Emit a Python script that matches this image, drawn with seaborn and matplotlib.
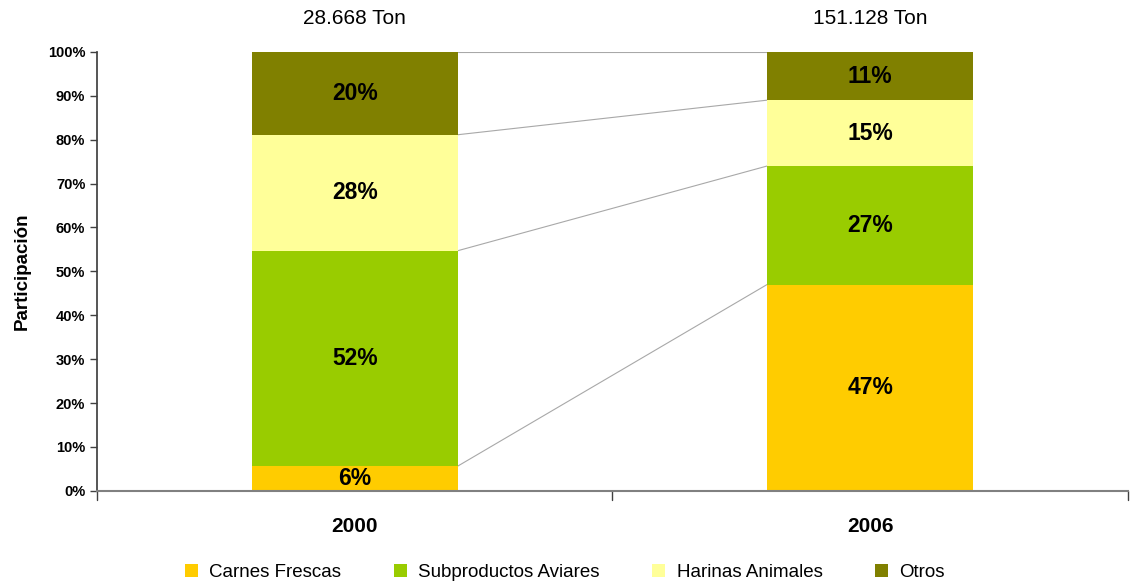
import pandas as pd
import matplotlib.pyplot as plt
import seaborn as sns
from matplotlib.patches import Patch

sns.set_theme(style="white")
plt.rcParams['font.family'] = ['Liberation Sans', 'DejaVu Sans']
plt.rcParams['text.color'] = 'black'
plt.rcParams['xtick.color'] = 'black'
plt.rcParams['ytick.color'] = 'black'
plt.rcParams['axes.labelcolor'] = 'black'

# Datos
years = ['2000', '2006']
totals = ['28.668 Ton', '151.128 Ton']
series = ['Carnes Frescas', 'Subproductos Aviares', 'Harinas Animales', 'Otros']
carnes = [6, 47]
subproductos = [52, 27]
harinas = [28, 15]
otros = [20, 11]
colors = ['#FFCC00', '#99CC00', '#FFFF99', '#808000']

df = pd.DataFrame({'year': years, series[0]: carnes, series[1]: subproductos,
                   series[2]: harinas, series[3]: otros})
sums = df[series].sum(axis=1)
shares = df[series].div(sums, axis=0)

fig = plt.figure(figsize=(11.3, 5.83), dpi=100)
ax = fig.add_axes([0.086, 0.158, 0.912, 0.753])

bottom = pd.Series([0.0, 0.0])
cum = []
for name, col in zip(series, colors):
    vals = shares[name]
    tmp = pd.DataFrame({'year': years, 'val': vals.values})
    sns.barplot(data=tmp, x='year', y='val', color=col, width=0.4, ax=ax,
                bottom=bottom.values, saturation=1, edgecolor='none', linewidth=0)
    raw = df[name]
    for i in range(len(years)):
        ax.text(i, bottom[i] + vals[i] / 2, f'{raw[i]}%', ha='center', va='center',
                fontsize=16.5, fontweight='bold')
    bottom = bottom + vals.values
    cum.append(bottom.copy())

# Líneas de series
for c in cum:
    ax.plot([0.2, 0.8], [c[0], c[1]], color='#A8A8A8', lw=0.8, zorder=0)

for i, t in enumerate(totals):
    ax.text(i, 1.075, t, ha='center', va='center', fontsize=15)

ax.set_xlim(-0.5, 1.5)
ax.set_ylim(0, 1)
ax.set_yticks([i / 10 for i in range(11)])
ax.set_yticklabels([f'{i * 10}%' for i in range(11)], fontsize=10.5, fontweight='bold')
ax.set_xticks([0, 1])
ax.set_xticklabels(years, fontsize=15, fontweight='bold')
ax.tick_params(axis='x', length=0, pad=19)
ax.tick_params(axis='y', length=5, width=1, color='#404040', left=True, direction='out')
for xs in [-0.5, 0.5, 1.5]:
    ax.plot([xs, xs], [0, -0.02], color='#404040', lw=1, clip_on=False)
ax.set_xlabel('')
ax.set_ylabel('Participación', fontsize=13.5, fontweight='bold', labelpad=12)

for s in ['top', 'right']:
    ax.spines[s].set_visible(False)
ax.spines['left'].set_color('#404040')
ax.spines['bottom'].set_color('#808080')
ax.spines['bottom'].set_linewidth(1.5)
ax.grid(False)

handles = [Patch(facecolor=c, edgecolor='none', label=s) for s, c in zip(series, colors)]
fig.legend(handles=handles, loc='lower center', ncol=4, frameon=False, fontsize=13.5,
           bbox_to_anchor=(0.5, -0.025), handlelength=0.7, handleheight=0.7,
           handletextpad=0.6, columnspacing=2.8)

fig.savefig('out.png', dpi=100)
